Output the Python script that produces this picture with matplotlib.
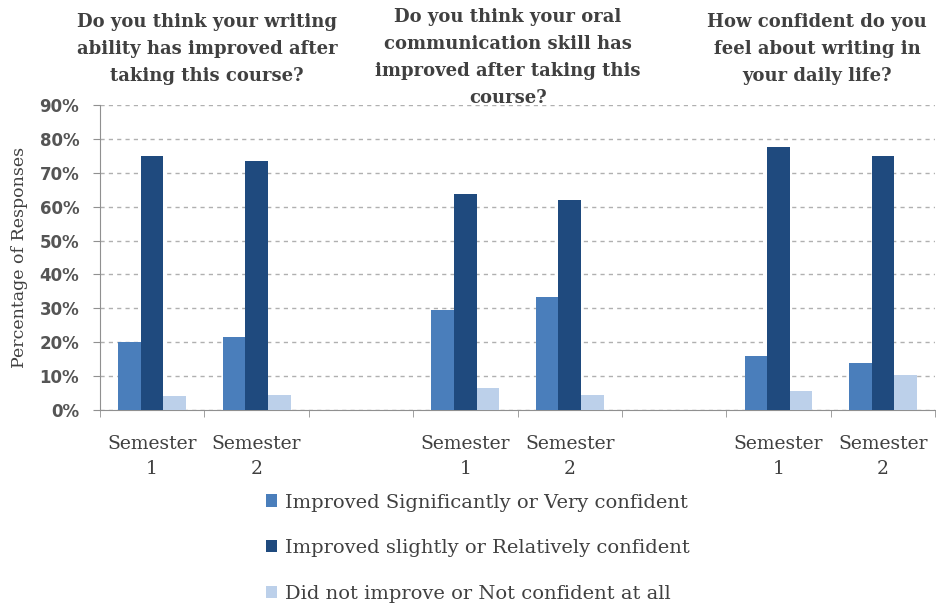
import numpy as np
import matplotlib
matplotlib.use('Agg')
import matplotlib.pyplot as plt
from matplotlib.ticker import FixedLocator

# categories along the x axis (blank slots separate the three questions)
categories = ['Semester\n1', 'Semester\n2', '', 'Semester\n1', 'Semester\n2', '', 'Semester\n1', 'Semester\n2']
series_names = ['Improved Significantly or Very confident',
                'Improved slightly or Relatively confident',
                'Did not improve or Not confident at all']
significant = [20.1, 21.4, np.nan, 29.5, 33.2, np.nan, 16.0, 13.8]
slightly = [75.0, 73.5, np.nan, 63.6, 62.0, np.nan, 77.7, 75.0]
not_improved = [4.1, 4.4, np.nan, 6.4, 4.4, np.nan, 5.6, 10.3]
questions = ['Do you think your writing\nability has improved after\ntaking this course?',
             'Do you think your oral\ncommunication skill has\nimproved after taking this\ncourse?',
             'How confident do you\nfeel about writing in\nyour daily life?']
yticks = [0, 10, 20, 30, 40, 50, 60, 70, 80, 90]

colors = ['#4a7ebb', '#1f4a7e', '#bcd0ea']
text_col = '#404040'
serif = ['DejaVu Serif']

fig = plt.figure(figsize=(9.36, 6.04), dpi=100)
ax = fig.add_axes([0.1068, 0.3212, 0.8922, 0.505])

x = np.arange(len(categories))
w = 0.217
for i, vals in enumerate([significant, slightly, not_improved]):
    ax.bar(x + (i - 1) * w, vals, w, color=colors[i], label=series_names[i], zorder=3)

ax.set_xlim(-0.5, len(categories) - 0.5)
ax.set_ylim(0, 90)
ax.set_yticks(yticks)
ax.set_yticklabels(['%d%%' % v for v in yticks], fontsize=12, fontweight='bold',
                   color='#555555')
ax.yaxis.grid(True, linestyle=(0, (3, 3)), color='#b0b0b0', linewidth=1.0, zorder=0)

ax.set_xticks(x)
ax.set_xticklabels(categories, fontsize=13.5, family=serif, color=text_col, linespacing=1.5)
ax.tick_params(axis='x', which='major', length=0, pad=18)
ax.xaxis.set_minor_locator(FixedLocator(np.arange(-0.5, len(categories), 1.0)))
ax.tick_params(axis='x', which='minor', length=5, color='#909090')
ax.tick_params(axis='y', length=5, color='#909090', pad=10)

for s in ['top', 'right']:
    ax.spines[s].set_visible(False)
ax.spines['left'].set_color('#909090')
ax.spines['bottom'].set_color('#909090')

ax.set_ylabel('Percentage of Responses', fontsize=12.5, family=serif, color=text_col, labelpad=8)

# question titles above each group
title_pos = [(207, 13), (508, 8), (817, 13)]
for q, (px, py) in zip(questions, title_pos):
    fig.text(px / 936, 1 - py / 604, q, ha='center', va='top', fontsize=13,
             fontweight='bold', family=serif, color=text_col, linespacing=1.65)

fig.legend(loc='upper left', bbox_to_anchor=(248 / 936, 1 - 476 / 604), frameon=False,
           prop={'family': serif, 'size': 14}, labelcolor=text_col,
           handlelength=0.6, handleheight=0.6, handletextpad=0.4, labelspacing=1.42)

fig.savefig('out.png', dpi=100)
